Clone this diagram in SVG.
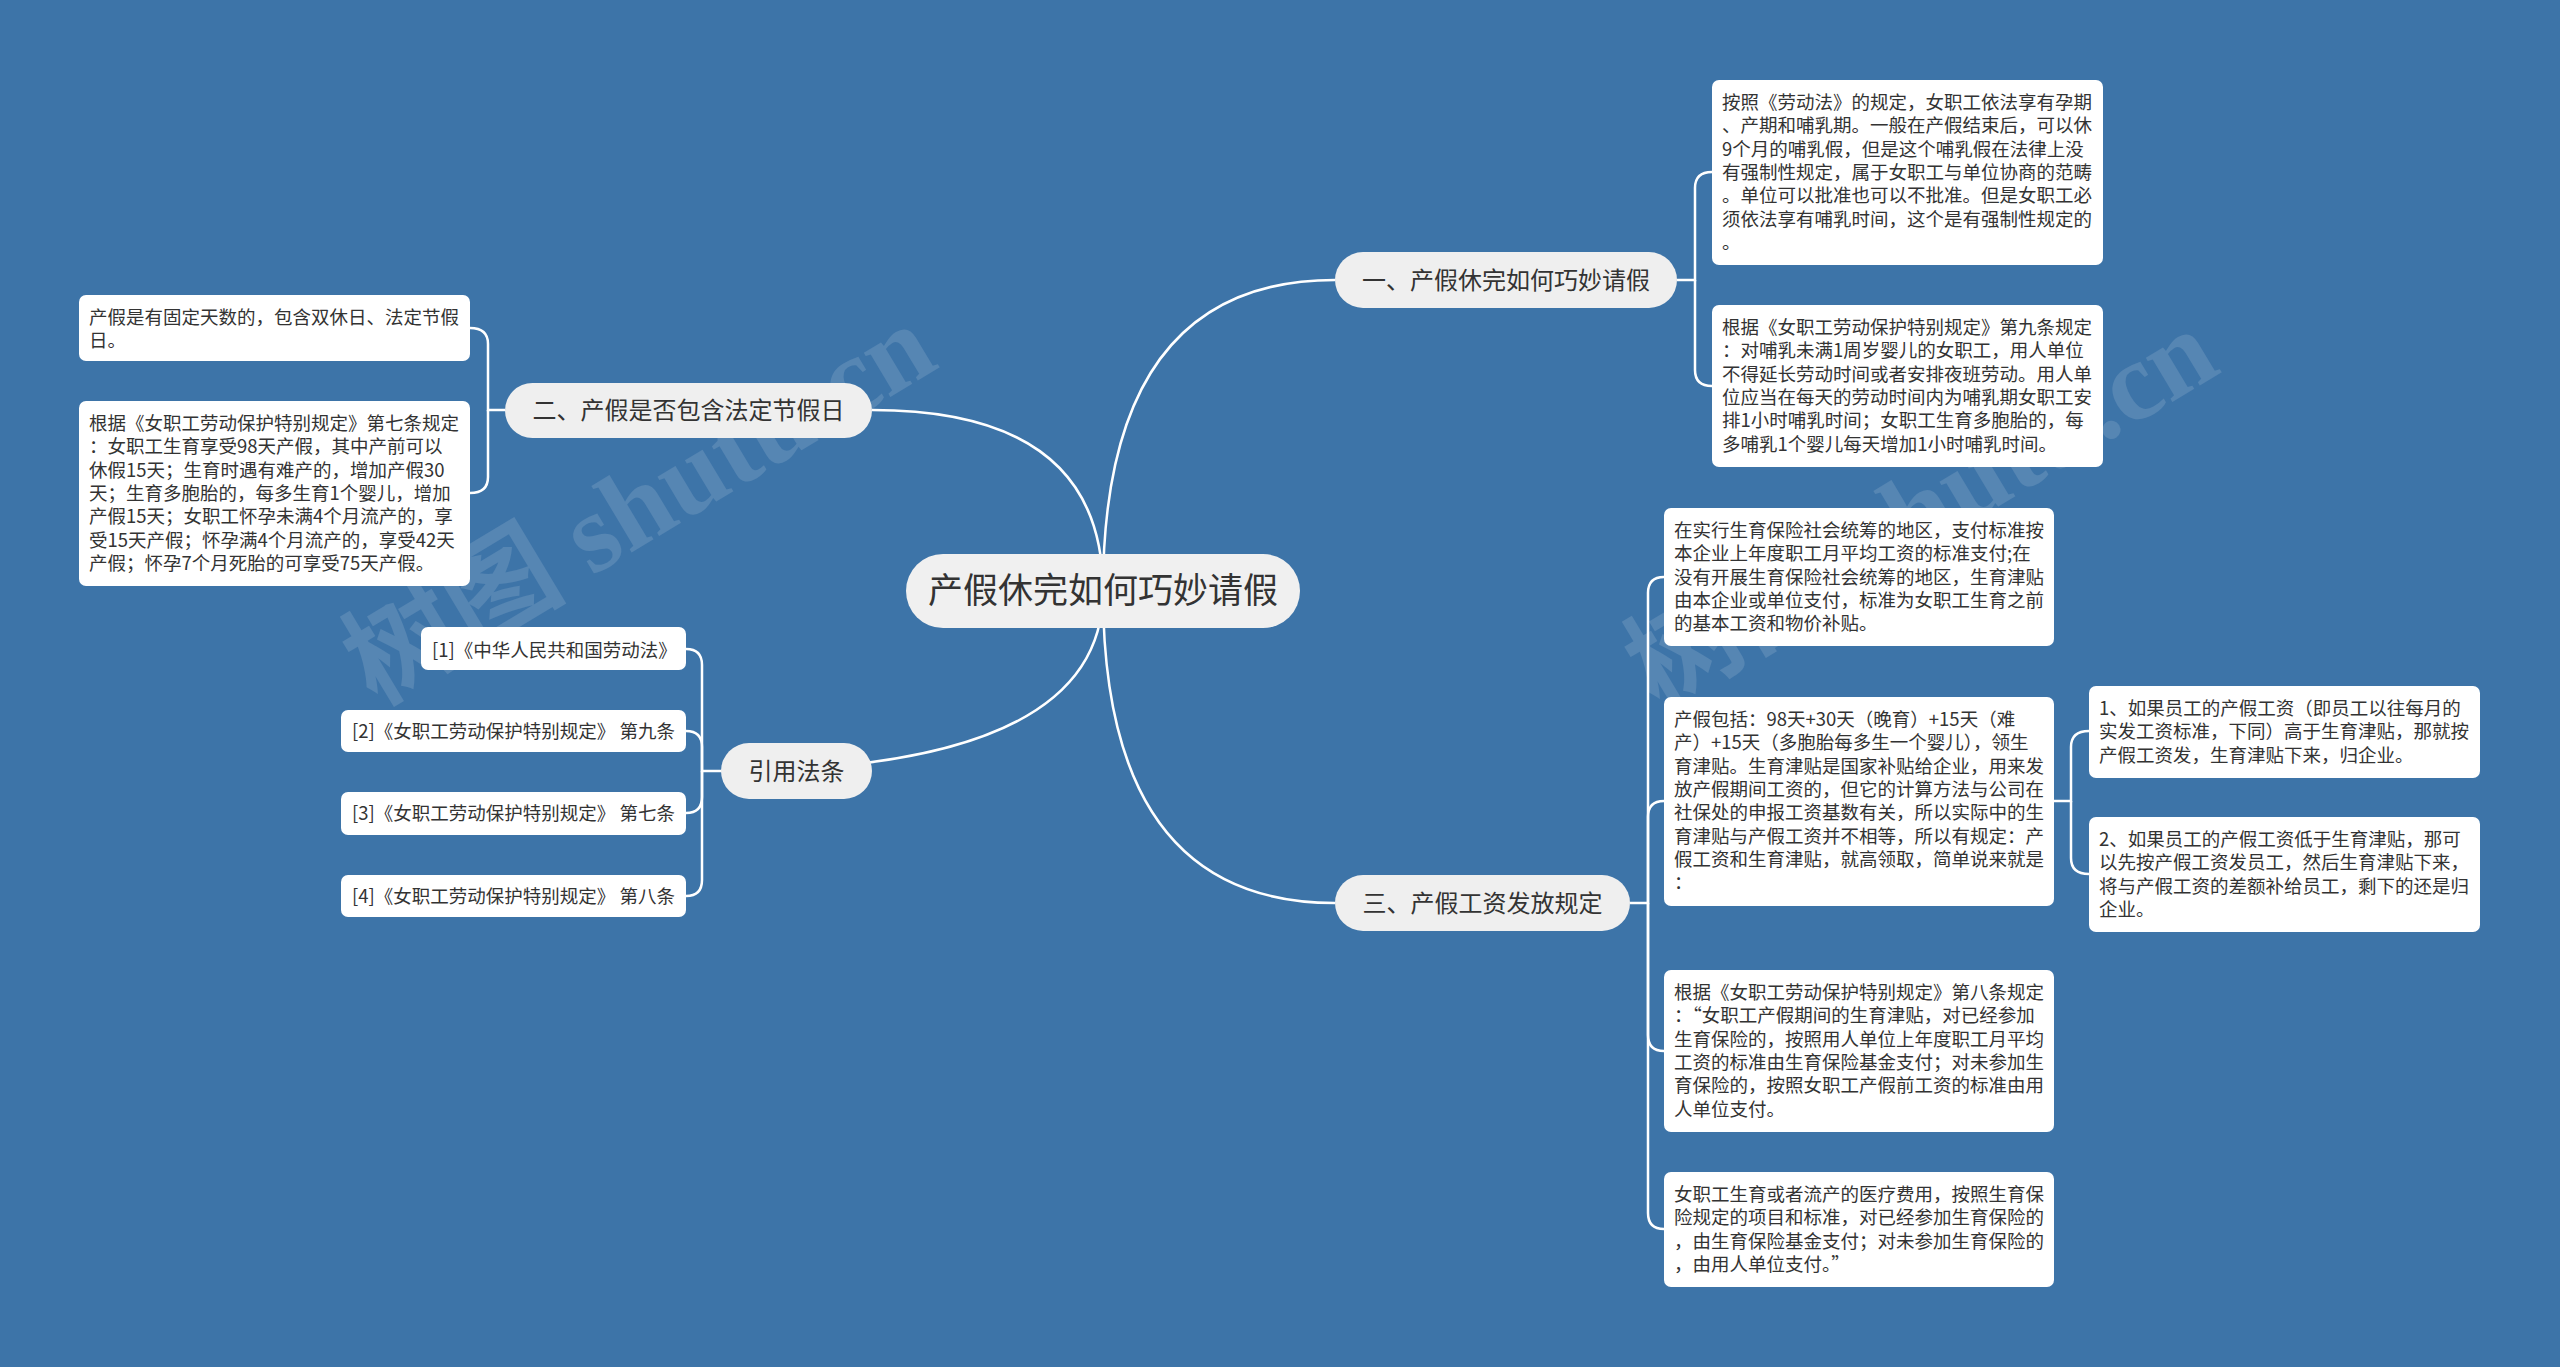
<svg xmlns="http://www.w3.org/2000/svg" width="2560" height="1367" viewBox="0 0 2560 1367">
<style>
.bg{fill:#3d74a8}
.wm{font-family:"Liberation Serif","Noto Sans CJK SC",serif;font-weight:bold;font-size:112px;fill:#ffffff;fill-opacity:0.13}
.root{fill:#f0f0f0}
.br{fill:#efefef}
.leaf{fill:#ffffff}
.rt{font-family:"Noto Sans CJK SC","Noto Sans",sans-serif;font-size:35px;fill:#333333;text-anchor:middle}
.bt{font-family:"Noto Sans CJK SC","Noto Sans",sans-serif;font-size:24px;fill:#333333;text-anchor:middle}
.lt{font-family:"Noto Sans CJK SC","Noto Sans",sans-serif;font-size:18.5px;fill:#333333}
.con{fill:none;stroke:#ffffff;stroke-width:2.5}
</style>
<rect class="bg" x="0" y="0" width="2560" height="1367"/>
<g id="watermarks">
<text class="wm" x="645" y="540" text-anchor="middle" transform="rotate(-31 645 514)">树图 shutu.cn</text>
<text class="wm" x="1927" y="545" text-anchor="middle" transform="rotate(-31 1927 519)">树图 shutu.cn</text>
</g>
<g id="connectors">
<path class="con" d="M1103,591 Q1103,280 1335,280"/>
<path class="con" d="M1103,591 Q1103,903 1335,903"/>
<path class="con" d="M1103,591 Q1103,410 872,410"/>
<path class="con" d="M1103,591 Q1103,771 721,771"/>
<path class="con" d="M1677,280 H1695 V188 Q1695,172 1712,172"/>
<path class="con" d="M1695,280 V370 Q1695,386 1712,386"/>
<path class="con" d="M1630,903 H1648 V593 Q1648,577 1664,577"/>
<path class="con" d="M1648,903 V817 Q1648,801 1664,801"/>
<path class="con" d="M1648,903 V1035 Q1648,1051 1664,1051"/>
<path class="con" d="M1648,903 V1213 Q1648,1229 1664,1229"/>
<path class="con" d="M2054,801 H2071 V747 Q2071,731 2089,731"/>
<path class="con" d="M2071,801 V858 Q2071,874 2089,874"/>
<path class="con" d="M505,410 H488 V344 Q488,328 470,328"/>
<path class="con" d="M488,410 V477 Q488,493 470,493"/>
<path class="con" d="M721,771 H702 V665 Q702,649 686,649"/>
<path class="con" d="M702,771 V747 Q702,731 686,731"/>
<path class="con" d="M702,771 V797 Q702,813 686,813"/>
<path class="con" d="M702,771 V880 Q702,896 686,896"/>
</g>
<g id="root">
<rect class="root" x="906" y="554" width="394" height="74" rx="37"/>
<text class="rt" x="1103" y="603">产假休完如何巧妙请假</text>
</g>
<g id="branch1">
<rect class="br" x="1335" y="252" width="342" height="56" rx="28"/>
<text class="bt" x="1506" y="288.5">一、产假休完如何巧妙请假</text>
</g>
<g id="branch2">
<rect class="br" x="505" y="383" width="367" height="55" rx="27.5"/>
<text class="bt" x="688.5" y="419">二、产假是否包含法定节假日</text>
</g>
<g id="branch3">
<rect class="br" x="1335" y="875" width="295" height="56" rx="28"/>
<text class="bt" x="1482.5" y="911.5">三、产假工资发放规定</text>
</g>
<g id="branch4">
<rect class="br" x="721" y="743" width="151" height="56" rx="28"/>
<text class="bt" x="796.5" y="779.5">引用法条</text>
</g>
<g id="leaf1">
<rect class="leaf" x="1712" y="80" width="391" height="185" rx="7"/>
<text class="lt"><tspan x="1722" y="109">按照《劳动法》的规定，女职工依法享有孕期</tspan><tspan x="1722" y="132.3">、产期和哺乳期。一般在产假结束后，可以休</tspan><tspan x="1722" y="155.6">9个月的哺乳假，但是这个哺乳假在法律上没</tspan><tspan x="1722" y="178.9">有强制性规定，属于女职工与单位协商的范畴</tspan><tspan x="1722" y="202.2">。单位可以批准也可以不批准。但是女职工必</tspan><tspan x="1722" y="225.5">须依法享有哺乳时间，这个是有强制性规定的</tspan><tspan x="1722" y="248.8">。</tspan></text>
</g>
<g id="leaf2">
<rect class="leaf" x="1712" y="305" width="391" height="162" rx="7"/>
<text class="lt"><tspan x="1722" y="334">根据《女职工劳动保护特别规定》第九条规定</tspan><tspan x="1722" y="357.3">：对哺乳未满1周岁婴儿的女职工，用人单位</tspan><tspan x="1722" y="380.6">不得延长劳动时间或者安排夜班劳动。用人单</tspan><tspan x="1722" y="403.9">位应当在每天的劳动时间内为哺乳期女职工安</tspan><tspan x="1722" y="427.2">排1小时哺乳时间；女职工生育多胞胎的，每</tspan><tspan x="1722" y="450.5">多哺乳1个婴儿每天增加1小时哺乳时间。</tspan></text>
</g>
<g id="leaf3">
<rect class="leaf" x="79" y="295" width="391" height="66" rx="7"/>
<text class="lt"><tspan x="89" y="324">产假是有固定天数的，包含双休日、法定节假</tspan><tspan x="89" y="347.3">日。</tspan></text>
</g>
<g id="leaf4">
<rect class="leaf" x="79" y="401" width="391" height="185" rx="7"/>
<text class="lt"><tspan x="89" y="430">根据《女职工劳动保护特别规定》第七条规定</tspan><tspan x="89" y="453.3">：女职工生育享受98天产假，其中产前可以</tspan><tspan x="89" y="476.6">休假15天；生育时遇有难产的，增加产假30</tspan><tspan x="89" y="499.9">天；生育多胞胎的，每多生育1个婴儿，增加</tspan><tspan x="89" y="523.2">产假15天；女职工怀孕未满4个月流产的，享</tspan><tspan x="89" y="546.5">受15天产假；怀孕满4个月流产的，享受42天</tspan><tspan x="89" y="569.8">产假；怀孕7个月死胎的可享受75天产假。</tspan></text>
</g>
<g id="cite1">
<rect class="leaf" x="421" y="627" width="265" height="43" rx="7"/>
<text class="lt" x="432" y="656.5">[1]《中华人民共和国劳动法》</text>
</g>
<g id="cite2">
<rect class="leaf" x="341" y="710" width="345" height="42" rx="7"/>
<text class="lt" x="352" y="737.5">[2]《女职工劳动保护特别规定》 第九条</text>
</g>
<g id="cite3">
<rect class="leaf" x="341" y="792" width="345" height="43" rx="7"/>
<text class="lt" x="352" y="820">[3]《女职工劳动保护特别规定》 第七条</text>
</g>
<g id="cite4">
<rect class="leaf" x="341" y="875" width="345" height="42" rx="7"/>
<text class="lt" x="352" y="902.5">[4]《女职工劳动保护特别规定》 第八条</text>
</g>
<g id="leaf5">
<rect class="leaf" x="1664" y="508" width="390" height="138" rx="7"/>
<text class="lt"><tspan x="1674" y="537">在实行生育保险社会统筹的地区，支付标准按</tspan><tspan x="1674" y="560.3">本企业上年度职工月平均工资的标准支付;在</tspan><tspan x="1674" y="583.6">没有开展生育保险社会统筹的地区，生育津贴</tspan><tspan x="1674" y="606.9">由本企业或单位支付，标准为女职工生育之前</tspan><tspan x="1674" y="630.2">的基本工资和物价补贴。</tspan></text>
</g>
<g id="leaf6">
<rect class="leaf" x="1664" y="697" width="390" height="209" rx="7"/>
<text class="lt"><tspan x="1674" y="726">产假包括：98天+30天（晚育）+15天（难</tspan><tspan x="1674" y="749.3">产）+15天（多胞胎每多生一个婴儿），领生</tspan><tspan x="1674" y="772.6">育津贴。生育津贴是国家补贴给企业，用来发</tspan><tspan x="1674" y="795.9">放产假期间工资的，但它的计算方法与公司在</tspan><tspan x="1674" y="819.2">社保处的申报工资基数有关，所以实际中的生</tspan><tspan x="1674" y="842.5">育津贴与产假工资并不相等，所以有规定：产</tspan><tspan x="1674" y="865.8">假工资和生育津贴，就高领取，简单说来就是</tspan><tspan x="1674" y="889.1">：</tspan></text>
</g>
<g id="leaf7">
<rect class="leaf" x="1664" y="970" width="390" height="162" rx="7"/>
<text class="lt"><tspan x="1674" y="999">根据《女职工劳动保护特别规定》第八条规定</tspan><tspan x="1674" y="1022.3">：“女职工产假期间的生育津贴，对已经参加</tspan><tspan x="1674" y="1045.6">生育保险的，按照用人单位上年度职工月平均</tspan><tspan x="1674" y="1068.9">工资的标准由生育保险基金支付；对未参加生</tspan><tspan x="1674" y="1092.2">育保险的，按照女职工产假前工资的标准由用</tspan><tspan x="1674" y="1115.5">人单位支付。</tspan></text>
</g>
<g id="leaf8">
<rect class="leaf" x="1664" y="1172" width="390" height="115" rx="7"/>
<text class="lt"><tspan x="1674" y="1201">女职工生育或者流产的医疗费用，按照生育保</tspan><tspan x="1674" y="1224.3">险规定的项目和标准，对已经参加生育保险的</tspan><tspan x="1674" y="1247.6">，由生育保险基金支付；对未参加生育保险的</tspan><tspan x="1674" y="1270.9">，由用人单位支付。”</tspan></text>
</g>
<g id="leaf9">
<rect class="leaf" x="2089" y="686" width="391" height="92" rx="7"/>
<text class="lt"><tspan x="2099" y="715">1、如果员工的产假工资（即员工以往每月的</tspan><tspan x="2099" y="738.3">实发工资标准，下同）高于生育津贴，那就按</tspan><tspan x="2099" y="761.6">产假工资发，生育津贴下来，归企业。</tspan></text>
</g>
<g id="leaf10">
<rect class="leaf" x="2089" y="817" width="391" height="115" rx="7"/>
<text class="lt"><tspan x="2099" y="846">2、如果员工的产假工资低于生育津贴，那可</tspan><tspan x="2099" y="869.3">以先按产假工资发员工，然后生育津贴下来，</tspan><tspan x="2099" y="892.6">将与产假工资的差额补给员工，剩下的还是归</tspan><tspan x="2099" y="915.9">企业。</tspan></text>
</g>
</svg>
